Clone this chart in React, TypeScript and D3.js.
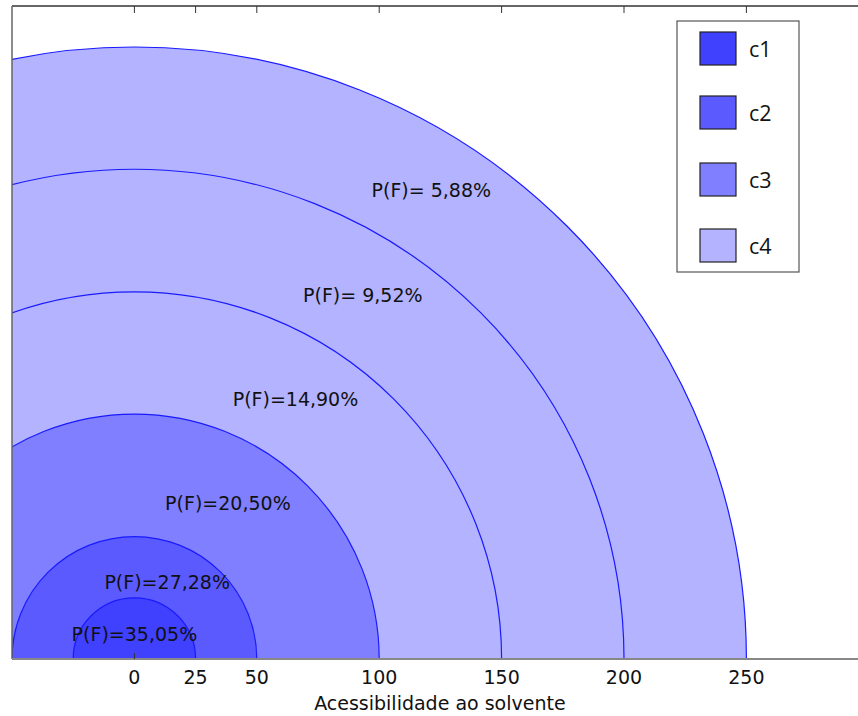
import React from "react";
import * as d3 from "d3";

const radii = [250, 200, 150, 100, 50, 25];
const ringClass = ["c4", "c4", "c4", "c3", "c2", "c1"];
const classNames = ["c1", "c2", "c3", "c4"];
const classColors = ["#4040ff", "#5a5aff", "#7f7fff", "#b3b3ff"];
const labelTexts = ["P(F)= 5,88%", "P(F)= 9,52%", "P(F)=14,90%", "P(F)=20,50%", "P(F)=27,28%", "P(F)=35,05%"];
const labelX = [121.3, 93.3, 65.8, 38.2, 13.4, 0];
const labelY = [191.6, 148.5, 106.2, 63.7, 31.6, 10.2];
const tickValues = [0, 25, 50, 100, 150, 200, 250];
const xLabel = "Acessibilidade ao solvente";

const W = 858;
const H = 716;
const left = 12;
const top = 6;
const bottom = 659;
const k = 2.448;

export default function App() {
  const x = d3.scaleLinear().domain([-50, 300]).range([left, left + 350 * k]);
  const y = d3.scaleLinear().domain([0, (bottom - top) / k]).range([bottom, top]);
  const cx = x(0);
  const cy = y(0);
  const colorOf = (c: string) => classColors[classNames.indexOf(c)];
  const arc = d3.arc<number>()
    .innerRadius(0)
    .outerRadius((r) => x(r) - x(0))
    .startAngle(-Math.PI / 2)
    .endAngle(Math.PI / 2);
  const font = "'DejaVu Sans', sans-serif";
  const fs = 19;
  return (
    <svg width={W} height={H} style={{ position: "absolute", left: 0, top: 0, background: "#fff" }}>
      <defs>
        <clipPath id="plot">
          <rect x={left} y={top} width={W - left} height={bottom - top} />
        </clipPath>
      </defs>
      <g clipPath="url(#plot)">
        {radii.map((r, i) => (
          <path
            key={r}
            d={arc(r) || ""}
            transform={`translate(${cx},${cy})`}
            fill={colorOf(ringClass[i])}
            stroke="#1a1aff"
            strokeWidth={1.2}
          />
        ))}
      </g>
      {labelTexts.map((t, i) => (
        <text
          key={t}
          x={x(labelX[i])}
          y={y(labelY[i])}
          textAnchor="middle"
          dominantBaseline="central"
          fontFamily={font}
          fontSize={fs}
          fill="#111"
        >
          {t}
        </text>
      ))}
      <line x1={left} x2={W} y1={top} y2={top} stroke="#333" strokeWidth={1.5} />
      <line x1={left} x2={left} y1={top} y2={bottom} stroke="#666" strokeWidth={1.5} />
      <line x1={left} x2={W} y1={bottom} y2={bottom} stroke="#888" strokeWidth={2} />
      {tickValues.map((v) => (
        <line key={"tt" + v} x1={x(v)} x2={x(v)} y1={top} y2={top + 7} stroke="#333" strokeWidth={1} />
      ))}
      <line x1={x(0)} x2={x(0)} y1={bottom} y2={bottom - 6} stroke="#333" strokeWidth={1} />
      {tickValues.map((v) => (
        <text
          key={"tl" + v}
          x={x(v)}
          y={684}
          textAnchor="middle"
          fontFamily={font}
          fontSize={fs}
          fill="#111"
        >
          {v}
        </text>
      ))}
      <text x={x(125) - 0.5} y={710} textAnchor="middle" fontFamily={font} fontSize={fs} fill="#111">
        {xLabel}
      </text>
      <rect x={677} y={21} width={122} height={251} fill="#fff" stroke="#555" strokeWidth={1.2} />
      {classNames.map((c, i) => {
        const sy = [32, 96, 163, 229][i];
        return (
          <g key={c}>
            <rect x={700} y={sy} width={36} height={33} fill={classColors[i]} stroke="#222" strokeWidth={1.2} />
            <text
              x={749}
              y={sy + 16.5}
              dominantBaseline="central"
              fontFamily="'Open Sans', sans-serif"
              fontSize={21.5}
              fill="#111"
            >
              {c}
            </text>
          </g>
        );
      })}
    </svg>
  );
}
